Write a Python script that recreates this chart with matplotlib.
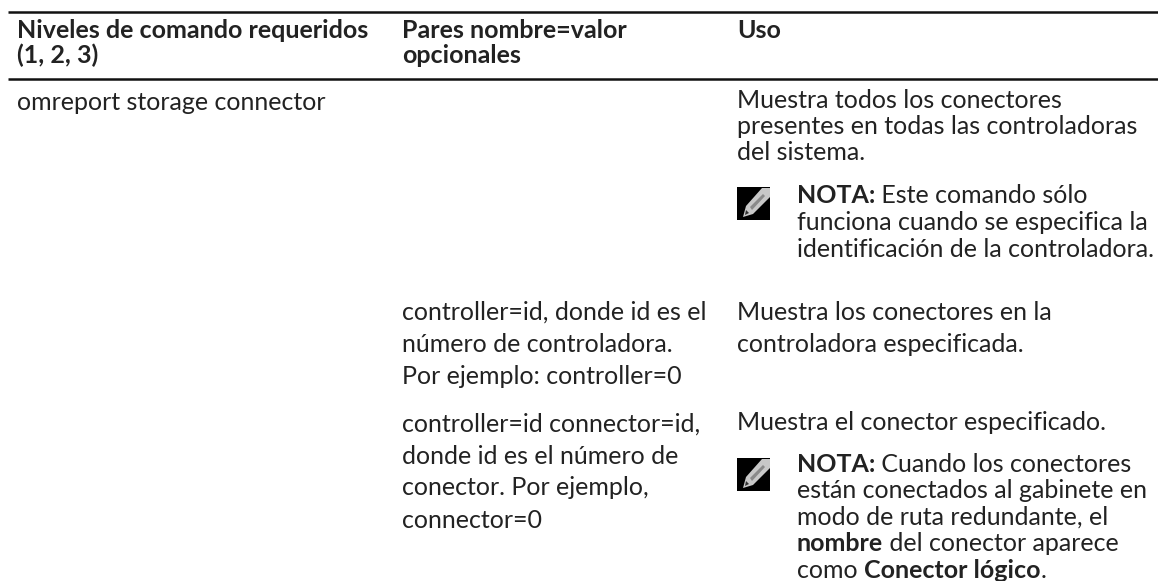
from matplotlib import pyplot as plt
from matplotlib.patches import Polygon, Rectangle

plt.rcParams['font.family'] = ['Lato', 'DejaVu Sans']

col1_x = 17
col2_x = 402
col3_x = 737
note_x = 797
size = 18
dark = '#222222'

header_rows = [
    (col1_x, 38, "Niveles de comando requeridos"),
    (col1_x, 63, "(1, 2, 3)"),
    (col2_x, 38, "Pares nombre=valor"),
    (col2_x, 63, "opcionales"),
    (col3_x, 38, "Uso"),
]

# each line is a list of (text, bold) runs
body_rows = [
    (col1_x, 110.5, [("omreport storage connector", False)]),
    (col3_x, 108, [("Muestra todos los conectores", False)]),
    (col3_x, 134, [("presentes en todas las controladoras", False)]),
    (col3_x, 160, [("del sistema.", False)]),
    (note_x, 203, [("NOTA:", True), (" Este comando sólo", False)]),
    (note_x, 230, [("funciona cuando se especifica la", False)]),
    (note_x, 257, [("identificación de la controladora.", False)]),
    (col2_x, 320, [("controller=id, donde id es el", False)]),
    (col2_x, 352, [("número de controladora.", False)]),
    (col2_x, 384, [("Por ejemplo: controller=0", False)]),
    (col3_x, 320, [("Muestra los conectores en la", False)]),
    (col3_x, 352, [("controladora especificada.", False)]),
    (col2_x, 432, [("controller=id connector=id,", False)]),
    (col2_x, 464, [("donde id es el número de", False)]),
    (col2_x, 495, [("conector. Por ejemplo,", False)]),
    (col2_x, 528, [("connector=0", False)]),
    (col3_x, 430, [("Muestra el conector especificado.", False)]),
    (note_x, 472, [("NOTA:", True), (" Cuando los conectores", False)]),
    (note_x, 498, [("están conectados al gabinete en", False)]),
    (note_x, 525, [("modo de ruta redundante, el", False)]),
    (note_x, 551, [("nombre", True), (" del conector aparece", False)]),
    (note_x, 578, [("como ", False), ("Conector lógico", True), (".", False)]),
]

rules_y = [11.5, 78.5]
icons_y = [187, 458]

fig = plt.figure(figsize=(11.58, 5.81), dpi=100)
ax = fig.add_axes([0, 0, 1, 1])
ax.set_xlim(0, 1158)
ax.set_ylim(581, 0)
ax.axis('off')

for y in rules_y:
    ax.plot([8, 1158], [y, y], color='#111111', lw=1.8, solid_capstyle='butt')

for x, y, s in header_rows:
    ax.text(x, y, s, fontsize=size, fontweight='bold', color=dark, va='baseline')

renderer = fig.canvas.get_renderer()
for x, y, runs in body_rows:
    for s, bold in runs:
        t = ax.text(x, y, s, fontsize=size, color=dark, va='baseline',
                    fontweight='bold' if bold else 'normal')
        x += t.get_window_extent(renderer).width

for y in icons_y:
    ax.add_patch(Rectangle((737, y), 33, 33, color='black', lw=0))
    # pencil body, then its dark core and tip
    ax.add_patch(Polygon([(746, y + 19), (762, y + 1), (770, y + 1), (770, y + 10), (753, y + 27), (743, y + 30)],
                         closed=True, color='#c8c8c8', lw=0))
    ax.add_patch(Polygon([(750, y + 20), (763, y + 7), (765, y + 9), (752, y + 23)],
                         closed=True, color='#8a8a8a', lw=0))
    ax.add_patch(Polygon([(746, y + 23), (749, y + 26), (745, y + 28)],
                         closed=True, color='#333333', lw=0))

fig.savefig("out.png", dpi=100)
